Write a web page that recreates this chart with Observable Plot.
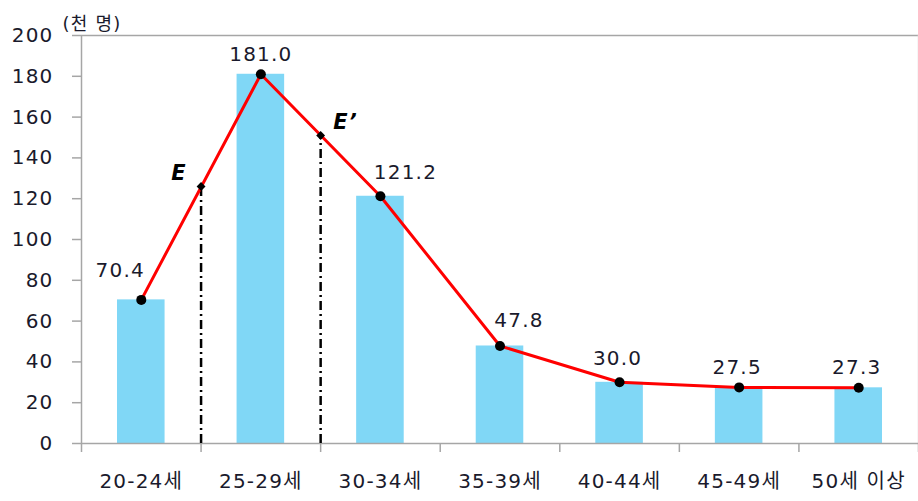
<!DOCTYPE html>
<html><head><meta charset="utf-8">
<script src="https://cdn.jsdelivr.net/npm/d3@7"></script>
<script src="https://cdn.jsdelivr.net/npm/@observablehq/plot@0.6"></script>
<style>body{margin:0;background:#fff}</style>
</head><body><div id="chart"></div>
<script>
const categories = ["20-24세","25-29세","30-34세","35-39세","40-44세","45-49세","50세 이상"];
const values = [70.4, 181.0, 121.2, 47.8, 30.0, 27.5, 27.3];
const yTicks = [0, 20, 40, 60, 80, 100, 120, 140, 160, 180, 200];
const markerNames = ["E", "E’"];
const markerBoundary = [1, 2];
const markerValues = [126, 151];
const unitLabel = "(천 명)";

const data = categories.map((c, i) => ({i, cat: c, v: values[i]}));
const markers = markerNames.map((n, k) => ({name: n, pos: markerBoundary[k], v: markerValues[k]}));
const boundaries = d3.range(categories.length + 1);
const mid = d => d.i + 0.5;
const fmt = d3.format(".1f");
const axisGray = "#a6a6a6";
const fs = 20;

const chart = Plot.plot({
  width: 918, height: 501,
  marginLeft: 81, marginRight: 0, marginTop: 35, marginBottom: 58,
  style: "font-family: 'DejaVu Sans', 'Noto Sans CJK KR', sans-serif; letter-spacing: 1.2px; color: #1a1a2c; background: #fff;",
  x: {type: "linear", domain: [0, categories.length], axis: null, label: null},
  y: {domain: [0, 200], axis: null, label: null},
  marks: [
    Plot.rect(data, {x1: d => d.i, x2: d => d.i + 1, y1: 0, y2: "v", fill: "#80d7f6", insetLeft: 36, insetRight: 36}),
    Plot.ruleY([200], {stroke: axisGray, strokeWidth: 1.5}),
    Plot.ruleX([categories.length], {stroke: "#dcdcdc", strokeWidth: 1.5}),
    Plot.ruleX([0], {stroke: axisGray, strokeWidth: 1.5}),
    Plot.ruleY([0], {stroke: axisGray, strokeWidth: 1.5}),
    Plot.axisY({ticks: yTicks, tickSize: 9, tickPadding: 19, fontSize: fs, stroke: axisGray, strokeWidth: 1.5, tickFormat: d => d, label: null}),
    Plot.axisX({ticks: boundaries, tickSize: 9, tickFormat: () => "", stroke: axisGray, strokeWidth: 1.5, label: null}),
    Plot.ruleX(markers, {x: "pos", y1: 0, y2: "v", stroke: "#000", strokeWidth: 2.5, strokeDasharray: "9,4,2,4"}),
    Plot.line(data, {x: mid, y: "v", stroke: "#ff0000", strokeWidth: 3}),
    Plot.dot(markers, {x: "pos", y: "v", symbol: "diamond2", r: 4, fill: "#000"}),
    Plot.dot(data, {x: mid, y: "v", r: 5, fill: "#000"}),
    Plot.text(data, {filter: d => d.i === 0, x: mid, y: "v", text: d => fmt(d.v), dx: -21, dy: -29, fontSize: fs}),
    Plot.text(data, {filter: d => d.i === 1, x: mid, y: "v", text: d => fmt(d.v), dx: 0, dy: -20, fontSize: fs}),
    Plot.text(data, {filter: d => d.i === 2, x: mid, y: "v", text: d => fmt(d.v), dx: 25, dy: -24, fontSize: fs}),
    Plot.text(data, {filter: d => d.i === 3, x: mid, y: "v", text: d => fmt(d.v), dx: 19, dy: -25, fontSize: fs}),
    Plot.text(data, {filter: d => d.i === 4, x: mid, y: "v", text: d => fmt(d.v), dx: -2, dy: -24, fontSize: fs}),
    Plot.text(data, {filter: d => d.i >= 5, x: mid, y: "v", text: d => fmt(d.v), dx: -2, dy: -20, fontSize: fs}),
    Plot.text(markers, {filter: d => d.pos === 1, x: "pos", y: "v", text: "name", dx: -22, dy: -13, fontSize: 21, fontWeight: "bold", fontStyle: "italic", fill: "#000"}),
    Plot.text(markers, {filter: d => d.pos === 2, x: "pos", y: "v", text: "name", dx: 25, dy: -13, fontSize: 21, fontWeight: "bold", fontStyle: "italic", fill: "#000"}),
    Plot.text(data, {x: mid, text: "cat", frameAnchor: "bottom", dy: 44, fontSize: fs}),
    Plot.text([unitLabel], {text: d => d, frameAnchor: "top-left", textAnchor: "start", dx: -19, dy: -18, fontSize: 18})
  ]
});
document.getElementById("chart").appendChild(chart);
</script>
</body></html>
